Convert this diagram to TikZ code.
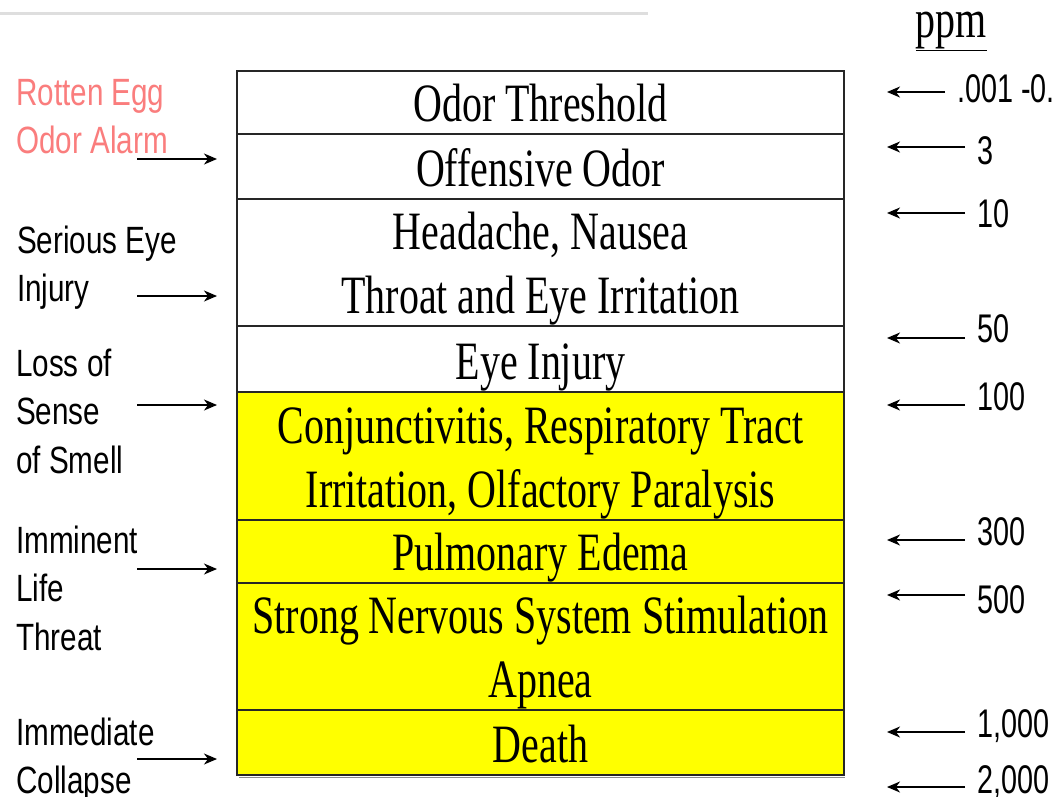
\documentclass[tikz,border=0pt]{standalone}
\usepackage{fontspec}
\usetikzlibrary{arrows.meta}
\newfontfamily\boxfont[FakeStretch=0.74]{Liberation Serif}
\newfontfamily\lfont[FakeStretch=0.78]{Liberation Sans}
\newfontfamily\rfont[FakeStretch=0.72]{Liberation Sans}
\definecolor{eggpink}{RGB}{250,125,125}
\definecolor{hiyellow}{RGB}{255,255,0}
\begin{document}
\begin{tikzpicture}[x=1pt,y=-1pt,
  rowbox/.style={draw=black!85,line width=1.5pt,anchor=north west,minimum width=607pt,inner sep=0pt,outer sep=0pt},
  boxtxt/.style={anchor=base,inner sep=0pt,font=\boxfont\fontsize{54}{64}\selectfont},
  lbl/.style={anchor=base west,inner sep=0pt,font=\lfont\fontsize{38}{48.5}\selectfont},
  num/.style={anchor=base west,inner sep=0pt,font=\rfont\fontsize{40}{48}\selectfont},
  arr/.style={draw=black,line width=1.5pt,-{Stealth[length=13pt,width=11pt,inset=4pt]}}]
\useasboundingbox (0,0) rectangle (1057,796);
\fill[white] (0,0) rectangle (1057,796);
% top rule
\draw[black!13,line width=3pt] (0,13) -- (648,13);
% bottom shadow
\draw[black!45,line width=1.2pt] (239,777.5) -- (845,777.5);
% rows
\node[rowbox,minimum height=63pt] (r1) at (237,71) {};
\node[rowbox,minimum height=65pt] (r2) at (237,134) {};
\node[rowbox,minimum height=127pt] (r3) at (237,199) {};
\node[rowbox,minimum height=66pt] (r4) at (237,326) {};
\node[rowbox,minimum height=128pt,fill=hiyellow] (r5) at (237,392) {};
\node[rowbox,minimum height=63pt,fill=hiyellow] (r6) at (237,520) {};
\node[rowbox,minimum height=127pt,fill=hiyellow] (r7) at (237,583) {};
\node[rowbox,minimum height=65pt,fill=hiyellow] (r8) at (237,710) {};
% row texts
\node[boxtxt] (t1) at (540.5,121) {Odor Threshold};
\node[boxtxt] (t2) at (540.5,186) {Offensive Odor};
\node[boxtxt] (t3) at (540.5,249) {\begin{tabular}[t]{@{}c@{}}Headache, Nausea\\Throat and Eye Irritation\end{tabular}};
\node[boxtxt] (t4) at (540.5,379) {Eye Injury};
\node[boxtxt] (t5) at (540.5,443) {\begin{tabular}[t]{@{}c@{}}Conjunctivitis, Respiratory Tract\\Irritation, Olfactory Paralysis\end{tabular}};
\node[boxtxt] (t6) at (540.5,570) {Pulmonary Edema};
\node[boxtxt] (t7) at (540.5,633) {\begin{tabular}[t]{@{}c@{}}Strong Nervous System Stimulation\\Apnea\end{tabular}};
\node[boxtxt] (t8) at (540.5,762) {Death};
% ppm header
\node[boxtxt,text height=25pt] (ppm) at (951.5,37) {\underline{ppm}};
% left labels
\node[lbl,text=eggpink] (l1) at (16,105) {\begin{tabular}[t]{@{}l@{}}Rotten Egg\\Odor Alarm\end{tabular}};
\node[lbl] (l2) at (17,253) {\begin{tabular}[t]{@{}l@{}}Serious Eye\\Injury\end{tabular}};
\node[lbl] (l3) at (16,376) {\begin{tabular}[t]{@{}l@{}}Loss of\\Sense\\of Smell\end{tabular}};
\node[lbl] (l4) at (16,553) {\begin{tabular}[t]{@{}l@{}}Imminent\\Life\\Threat\end{tabular}};
\node[lbl] (l5) at (16,745) {\begin{tabular}[t]{@{}l@{}}Immediate\\Collapse\end{tabular}};
% left arrows
\coordinate (la1) at (137,159); \coordinate (lb1) at (217,159);
\coordinate (la2) at (137,296); \coordinate (lb2) at (217,296);
\coordinate (la3) at (137,405); \coordinate (lb3) at (217,405);
\coordinate (la4) at (137,569); \coordinate (lb4) at (217,569);
\coordinate (la5) at (137,759); \coordinate (lb5) at (217,759);
\foreach \i in {1,...,5} {\draw[arr] (la\i) -- (lb\i);}
% right numbers
\node[num] (n1) at (957,102) {.001 -0.};
\node[num] (n2) at (977,164) {3};
\node[num] (n3) at (977,227) {10};
\node[num] (n4) at (977,342) {50};
\node[num] (n5) at (977,410) {100};
\node[num] (n6) at (977,545) {300};
\node[num] (n7) at (977,613) {500};
\node[num] (n8) at (977,737) {1,000};
\node[num] (n9) at (977,793) {2,000};
% right arrows
\coordinate (ra1) at (945,92); \coordinate (rb1) at (887,92);
\coordinate (ra2) at (965,147); \coordinate (rb2) at (887,147);
\coordinate (ra3) at (965,213); \coordinate (rb3) at (887,213);
\coordinate (ra4) at (965,338); \coordinate (rb4) at (887,338);
\coordinate (ra5) at (965,405); \coordinate (rb5) at (887,405);
\coordinate (ra6) at (965,540); \coordinate (rb6) at (887,540);
\coordinate (ra7) at (965,595); \coordinate (rb7) at (887,595);
\coordinate (ra8) at (965,732); \coordinate (rb8) at (887,732);
\coordinate (ra9) at (965,787); \coordinate (rb9) at (887,787);
\foreach \i in {1,...,9} {\draw[arr] (ra\i) -- (rb\i);}
\end{tikzpicture}
\end{document}
